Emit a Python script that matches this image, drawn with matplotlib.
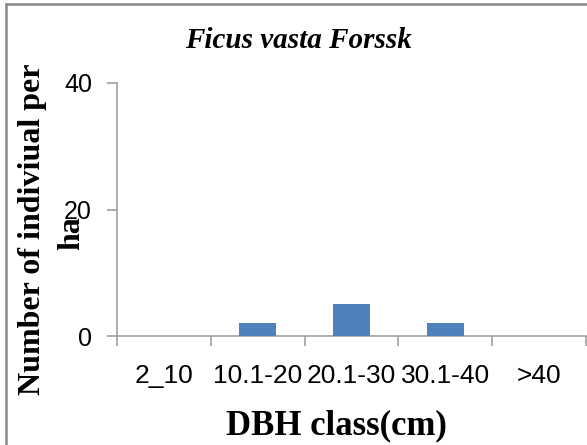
import numpy as np
import matplotlib.pyplot as plt
from matplotlib.lines import Line2D

# классы диаметра и число деревьев на гектар
dbh_classes = ['2_10', '10.1-20', '20.1-30', '30.1-40', '>40']
counts = [0, 2, 5, 2, 0]
y_ticks = [0, 20, 40]

bar_color = '#4F81BD'
axis_color = '#A0A0A0'

fig = plt.figure(figsize=(5.87, 4.45), dpi=100, facecolor='w')
ax = fig.add_axes([117/587, 109/445, 469/587, 253/445])

x = np.arange(len(dbh_classes))
ax.bar(x, counts, width=0.39, color=bar_color, zorder=3)

ax.set_xlim(-0.5, len(dbh_classes) - 0.5)
ax.set_ylim(0, 40)

# риски между категориями, подписи по центру категорий
ax.set_xticks(np.arange(len(dbh_classes) + 1) - 0.5)
ax.set_xticklabels([])
ax.set_xticks(x, minor=True)
ax.set_xticklabels(dbh_classes, minor=True, fontsize=19,
                   family='Liberation Sans')
ax.tick_params(axis='x', which='major', length=7, width=1.2,
               color=axis_color, direction='out')
ax.tick_params(axis='x', which='minor', length=0, pad=20)

ax.set_yticks(y_ticks)
ax.set_yticklabels([str(v) for v in y_ticks], fontsize=18,
                   family='Liberation Sans')
ax.tick_params(axis='y', length=7, width=1.2, color=axis_color,
               direction='out', pad=11)

for side in ['top', 'right']:
    ax.spines[side].set_visible(False)
for side in ['left', 'bottom']:
    ax.spines[side].set_color(axis_color)
    ax.spines[side].set_linewidth(1.2)

fig.text(298/587, 1 - 41/445, 'Ficus vasta Forssk', ha='center', va='center',
         fontsize=21, fontweight='bold', fontstyle='italic',
         family='Liberation Serif')
fig.text(336/587, 1 - 426/445, 'DBH class(cm)', ha='center', va='center',
         fontsize=25, fontweight='bold', family='Liberation Serif')
# подпись оси Y в две строки, как в исходнике
fig.text(33/587, 1 - 229/445, 'Number of indiviual per', rotation=90,
         ha='center', va='center', fontsize=23, fontweight='bold',
         family='Liberation Serif')
fig.text(72/587, 1 - 233/445, 'ha', rotation=90,
         ha='center', va='center', fontsize=23, fontweight='bold',
         family='Liberation Serif')

# рамка области диаграммы (видны только левая и верхняя стороны)
fig.add_artist(Line2D([6/587, 6/587], [0, 1 - 4/445], transform=fig.transFigure,
                      color='#888888', lw=1.8))
fig.add_artist(Line2D([6/587, 1], [1 - 4/445, 1 - 4/445], transform=fig.transFigure,
                      color='#888888', lw=1.8))

fig.savefig('out.png', dpi=100)
